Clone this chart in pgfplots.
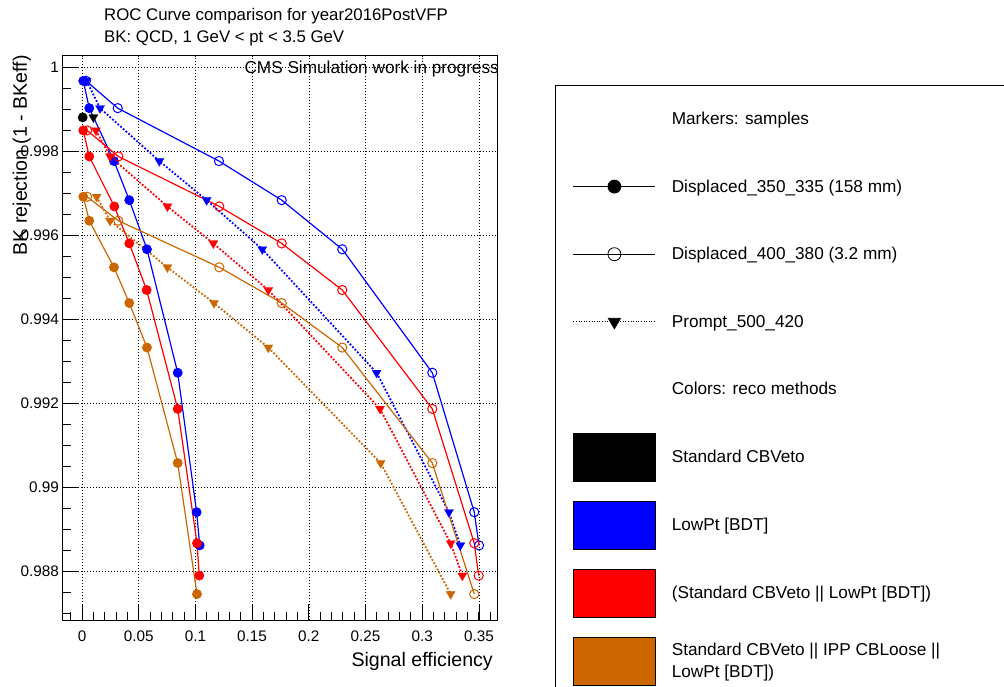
\documentclass[border=0pt]{standalone}
\usepackage{fontspec}
\setmainfont{Liberation Sans}
\usepackage{pgfplots}
\pgfplotsset{compat=1.18}
\definecolor{rblue}{RGB}{0,0,255}
\definecolor{rred}{RGB}{255,0,0}
\definecolor{rorange}{RGB}{204,102,0}

% marker / line styles for the three samples
\pgfplotsset{
  fil/.style={solid, line width=1.2pt, mark=*, mark size=4.3pt},
  opn/.style={solid, line width=1.2pt, mark=o, mark size=4.6pt, mark options={solid, line width=1pt}},
  tri/.style={line width=1.8pt, dash pattern=on 1.8pt off 1.8pt, mark=triangle*, mark size=5.3pt,
              mark options={solid, rotate=180, line width=0.2pt}},
  legline/.style={legend image code/.code={
      \path[draw=none, fill=none] (0pt,-24pt) rectangle (82pt,24pt);
      \draw[mark repeat=2, mark phase=2, ##1] plot coordinates {(0pt,0pt) (41pt,0pt) (82pt,0pt)};}},
  legbox/.style={legend image code/.code={\fill[##1] (0pt,-24pt) rectangle (82pt,24pt);}},
  legnone/.style={legend image code/.code={\path[draw=none, fill=none] (0pt,-24pt) rectangle (82pt,24pt);}},
}

\begin{document}
\begin{tikzpicture}[x=1pt,y=1pt]
\useasboundingbox (0,0) rectangle (1004,686);

\begin{axis}[
  at={(62.5pt,66pt)}, anchor=south west,
  scale only axis, width=435pt, height=564.3pt,
  xmin=-0.0172, xmax=0.3664, ymin=0.986833, ymax=1.000269,
  axis line style={line width=1pt},
  tick align=inside, xtick pos=bottom, ytick pos=left,
  xtick={0,0.05,0.1,0.15,0.2,0.25,0.3,0.35},
  xticklabels={0,0.05,0.1,0.15,0.2,0.25,0.3,0.35},
  ytick={0.988,0.99,0.992,0.994,0.996,0.998,1},
  yticklabels={0.988,0.99,0.992,0.994,0.996,0.998,1},
  minor xtick={-0.01,0,0.01,...,0.36},
  minor ytick={0.987,0.9875,...,1},
  major tick length=16pt, minor tick length=8pt,
  tick style={black, line width=0.8pt},
  grid=major, major grid style={black, line width=0.6pt, dash pattern=on 0.8pt off 2.2pt},
  ticklabel style={font=\fontsize{15.3}{18}\selectfont},
  xticklabel style={anchor=base, inner sep=0pt, yshift=-21.3pt},
  yticklabel style={anchor=base east, inner sep=0pt, xshift=-3.3pt, yshift=-5.5pt},
  legend cell align=left,
  legend style={at={(1.17356,0.93036)}, anchor=north west, draw=none, fill=none,
    inner sep=0pt, outer sep=0pt, row sep=19.6pt, column sep=16pt,
    nodes={inner sep=0pt, align=left, font=\fontsize{17.2}{22}\selectfont}},
]
% ---- blue: LowPt [BDT]
\addplot[rblue, fil, forget plot] coordinates {
 (0.0011,0.99967) (0.0064,0.99902) (0.0282,0.99776) (0.0417,0.99683)
 (0.0573,0.99566) (0.0844,0.99272) (0.1011,0.98940) (0.1038,0.98861)};
\addplot[rblue, opn, forget plot] coordinates {
 (0.0035,0.99967) (0.0315,0.99902) (0.1208,0.99776) (0.1761,0.99683)
 (0.2295,0.99566) (0.3089,0.99272) (0.3459,0.98940) (0.3501,0.98861)};
\addplot[rblue, tri, forget plot] coordinates {
 (0.0040,0.99967) (0.0159,0.99902) (0.0682,0.99776) (0.1099,0.99683)
 (0.1590,0.99566) (0.2598,0.99272) (0.3236,0.98940) (0.3336,0.98861)};
% ---- red: Standard CBVeto || LowPt [BDT]
\addplot[rred, fil, forget plot] coordinates {
 (0.0011,0.99849) (0.0064,0.99787) (0.0285,0.99668) (0.0417,0.99580)
 (0.0570,0.99469) (0.0844,0.99186) (0.1014,0.98866) (0.1034,0.98789)};
\addplot[rred, opn, forget plot] coordinates {
 (0.0045,0.99849) (0.0320,0.99787) (0.1211,0.99668) (0.1761,0.99580)
 (0.2295,0.99469) (0.3089,0.99186) (0.3459,0.98866) (0.3498,0.98789)};
\addplot[rred, tri, forget plot] coordinates {
 (0.0123,0.99849) (0.0247,0.99787) (0.0753,0.99668) (0.1158,0.99580)
 (0.1643,0.99469) (0.2628,0.99186) (0.3251,0.98866) (0.3354,0.98789)};
% ---- orange: Standard CBVeto || IPP CBLoose || LowPt [BDT]
\addplot[rorange, fil, forget plot] coordinates {
 (0.0011,0.99691) (0.0064,0.99634) (0.0282,0.99523) (0.0417,0.99438)
 (0.0573,0.99332) (0.0844,0.99057) (0.1014,0.98745)};
\addplot[rorange, opn, forget plot] coordinates {
 (0.0045,0.99691) (0.0320,0.99634) (0.1211,0.99523) (0.1761,0.99438)
 (0.2295,0.99332) (0.3089,0.99057) (0.3459,0.98745)};
\addplot[rorange, tri, forget plot] coordinates {
 (0.0129,0.99691) (0.0247,0.99634) (0.0753,0.99523) (0.1164,0.99438)
 (0.1643,0.99332) (0.2634,0.99057) (0.3251,0.98745)};
% ---- black: Standard CBVeto (single working point)
\addplot[black, fil, forget plot] coordinates {(0.0006,0.99880)};
\addplot[black, tri, forget plot] coordinates {(0.0100,0.99880)};

% ---- legend
\addlegendimage{legnone}
\addlegendentry{Markers: samples}
\addlegendimage{legline, black, solid, line width=0.8pt, mark=*, mark size=6.5pt}
\addlegendentry{Displaced\_350\_335 (158 mm)}
\addlegendimage{legline, black, solid, line width=0.8pt, mark=o, mark size=6.5pt}
\addlegendentry{Displaced\_400\_380 (3.2 mm)}
\addlegendimage{legline, black, line width=0.8pt, dash pattern=on 1pt off 1.6pt, mark=triangle*, mark size=7pt, mark options={solid, rotate=180}}
\addlegendentry{Prompt\_500\_420}
\addlegendimage{legnone}
\addlegendentry{Colors: reco methods}
\addlegendimage{legbox, fill=black}
\addlegendentry{Standard CBVeto}
\addlegendimage{legbox, fill=rblue}
\addlegendentry{LowPt [BDT]}
\addlegendimage{legbox, fill=rred}
\addlegendentry{(Standard CBVeto || LowPt [BDT])}
\addlegendimage{legbox, fill=rorange}
\addlegendentry{Standard CBVeto || IPP CBLoose ||\\ LowPt [BDT])}
\end{axis}

% legend frame (runs off the right and bottom edges)
\draw[line width=1pt] (1015,600.3) -- (555.5,600.3) -- (555.5,-10);

% titles and axis labels
\node[anchor=base west, inner sep=0pt, font=\fontsize{16.8}{20}\selectfont] at (104,665.3) {ROC Curve comparison for year2016PostVFP};
\node[anchor=base west, inner sep=0pt, font=\fontsize{16.8}{20}\selectfont] at (104,643.3) {BK: QCD, 1 GeV < pt < 3.5 GeV};
\node[anchor=base east, inner sep=0pt, font=\fontsize{17.2}{20}\selectfont] at (499,612) {CMS Simulation work in progress};
\node[anchor=base east, inner sep=0pt, font=\fontsize{19.6}{23}\selectfont] at (493,20) {Signal efficiency};
\node[anchor=base east, rotate=90, inner sep=0pt, font=\fontsize{19.6}{23}\selectfont] at (27,631) {BK rejection (1 - BKeff)};
\end{tikzpicture}
\end{document}
